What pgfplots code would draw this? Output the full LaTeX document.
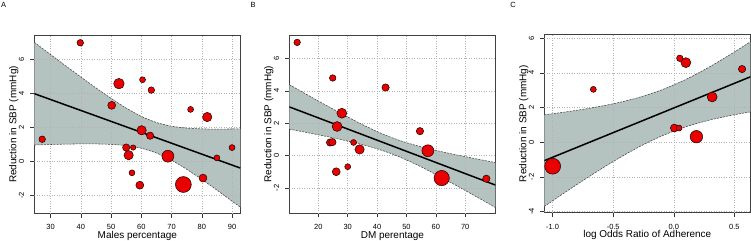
\documentclass[border=0pt]{standalone}
\usepackage{pgfplots}
\pgfplotsset{compat=1.18}
\usepackage{pgfplotstable}
\usepackage{fontspec}
\setmainfont{Liberation Sans}
\definecolor{ptred}{RGB}{235,0,0}
\definecolor{bandcol}{RGB}{180,194,192}
\definecolor{bandedge}{RGB}{70,70,70}

\pgfplotstableread{
x y r
73.9 -1.37 8.0
68.8 0.30 6.0
52.6 4.58 5.3
55.8 0.36 4.7
81.8 2.61 4.7
60.1 1.83 4.7
50.2 3.30 4.0
59.5 -1.41 4.0
80.4 -0.99 4.0
55.0 0.81 3.7
62.9 1.51 3.7
27.2 1.30 3.3
39.8 6.99 3.3
63.3 4.20 3.3
57.3 0.81 2.7
56.9 -0.68 3.0
60.4 4.81 3.0
76.3 3.06 3.0
90.0 0.81 3.0
85.0 0.20 3.0
}\dataA

\pgfplotstableread{
x y r
62.0 -1.40 7.7
57.3 0.29 6.0
28.0 2.61 5.0
26.4 1.79 5.0
34.05 0.37 4.7
26.1 -1.01 4.0
24.0 0.80 3.7
24.8 0.82 3.7
54.6 1.50 3.7
77.2 -1.44 3.7
42.9 4.20 3.7
12.8 6.99 3.3
24.9 4.79 3.3
32.0 0.80 3.0
30.0 -0.70 3.0
}\dataB

\pgfplotstableread{
x y r
-1.0 -1.38 8.0
0.187 0.32 6.3
0.10 4.59 5.0
0.317 2.61 5.0
0.005 0.82 4.0
0.564 4.22 3.7
0.05 4.84 3.3
0.044 0.82 3.0
-0.664 3.05 3.0
}\dataC

\tikzset{gridst/.style={dotted, black!30, line width=0.5bp}}
\pgfplotsset{
  myax/.style={
    scale only axis, width=206bp, height=178bp,
    axis line style={draw=black!75, line width=0.6bp},
    tick align=outside, major tick length=4bp,
    tick style={black!80, line width=0.5bp},
    xtick pos=left, ytick pos=left,
    /pgf/number format/assume math mode=true,
    tick label style={font=\fontsize{7.5}{9}\selectfont, inner sep=0pt},
    label style={font=\fontsize{7.5}{9}\selectfont},
    yticklabel style={rotate=90, anchor=south},
    xticklabel style={anchor=north},
    yticklabel shift=6bp, xticklabel shift=7bp,
    ylabel={Reduction in SBP (mmHg)},
    every axis y label/.style={at={(axis description cs:-0.1,0.5)}, rotate=90, anchor=center},
    every axis x label/.style={at={(axis description cs:0.5,-0.1275)}, anchor=center},
  },
  bubbles/.style={scatter, only marks, mark=*,
    scatter/use mapped color={draw=black, fill=ptred},
    mark options={line width=0.45bp},
    visualization depends on={\thisrow{r} \as \rr},
    scatter/@pre marker code/.append style={/tikz/mark size=\rr}},
  band/.style={fill=bandcol, draw=none},
  bedge/.style={bandedge, line width=0.55bp, dash pattern=on 2bp off 1.2bp, smooth},
  regline/.style={black, line width=1.5bp},
}

\begin{document}
\begin{tikzpicture}
\useasboundingbox (0,0) rectangle (751bp,241bp);
\node[font=\fontsize{7.5}{9}\selectfont] at (3.5bp,236.5bp) {A};
\node[font=\fontsize{7.5}{9}\selectfont] at (253bp,236.5bp) {B};
\node[font=\fontsize{7.5}{9}\selectfont] at (513bp,236.3bp) {C};

% ---------- A ----------
\begin{axis}[myax, at={(34.3bp,27.5bp)}, anchor=south west,
  xmin=24.59, xmax=92.74, ymin=-3.08, ymax=7.42,
  xtick={30,40,...,90}, ytick={-2,0,2,4,6},
  xlabel={Males percentage}]
\addplot[band] coordinates {(24.59,7.02) (30,6.294) (35,5.628) (40,4.971) (45,4.329) (50,3.712) (55,3.139) (60,2.649) (65,2.286) (70,2.069) (75,1.959) (80,1.912) (85,1.898) (92.74,1.913)
 (92.74,-2.709) (85,-1.698) (80,-1.068) (75,-0.471) (70,0.063) (65,0.49) (60,0.771) (55,0.925) (50,0.996) (45,1.023) (40,1.025) (35,1.012) (30,0.99) (24.59,0.96) (24.59,7.02)};
\pgfplotsinvokeforeach{30,40,50,60,70,80,90}{\draw[gridst] (axis cs:#1,-3.08) -- (axis cs:#1,7.42);}
\pgfplotsinvokeforeach{-2,0,2,4,6}{\draw[gridst] (axis cs:24.59,#1) -- (axis cs:92.74,#1);}
\addplot[bedge] coordinates {(24.59,7.02) (30,6.294) (35,5.628) (40,4.971) (45,4.329) (50,3.712) (55,3.139) (60,2.649) (65,2.286) (70,2.069) (75,1.959) (80,1.912) (85,1.898) (92.74,1.913)};
\addplot[bedge] coordinates {(24.59,0.96) (30,0.99) (35,1.012) (40,1.025) (45,1.023) (50,0.996) (55,0.925) (60,0.771) (65,0.49) (70,0.063) (75,-0.471) (80,-1.068) (85,-1.698) (92.74,-2.709)};
\addplot[regline] coordinates {(24.59,3.99) (92.74,-0.398)};
\addplot[bubbles] table[x=x,y=y,meta=r]{\dataA};
\end{axis}

% ---------- B ----------
\begin{axis}[myax, at={(289.4bp,27.7bp)}, anchor=south west,
  xmin=10.16, xmax=80.28, ymin=-3.58, ymax=7.43,
  xtick={20,30,...,70}, ytick={-2,0,2,4,6},
  xlabel={DM perentage}]
\addplot[band] coordinates {(10.16,4.374) (15,3.877) (20,3.368) (25,2.867) (30,2.377) (35,1.909) (40,1.477) (45,1.1) (50,0.788) (55,0.531) (60,0.31) (65,0.111) (70,-0.077) (75,-0.257) (80.28,-0.442)
 (80.28,-3.222) (75,-2.677) (70,-2.169) (65,-1.667) (60,-1.178) (55,-0.709) (50,-0.278) (45,0.1) (40,0.411) (35,0.669) (30,0.889) (25,1.089) (20,1.276) (15,1.457) (10.16,1.626) (10.16,4.374)};
\pgfplotsinvokeforeach{20,30,40,50,60,70}{\draw[gridst] (axis cs:#1,-3.58) -- (axis cs:#1,7.43);}
\pgfplotsinvokeforeach{-2,0,2,4,6}{\draw[gridst] (axis cs:10.16,#1) -- (axis cs:80.28,#1);}
\addplot[bedge] coordinates {(10.16,4.374) (15,3.877) (20,3.368) (25,2.867) (30,2.377) (35,1.909) (40,1.477) (45,1.1) (50,0.788) (55,0.531) (60,0.31) (65,0.111) (70,-0.077) (75,-0.257) (80.28,-0.442)};
\addplot[bedge] coordinates {(10.16,1.626) (15,1.457) (20,1.276) (25,1.089) (30,0.889) (35,0.669) (40,0.411) (45,0.1) (50,-0.278) (55,-0.709) (60,-1.178) (65,-1.667) (70,-2.169) (75,-2.677) (80.28,-3.222)};
\addplot[regline] coordinates {(10.16,3.0) (80.28,-1.832)};
\addplot[bubbles] table[x=x,y=y,meta=r]{\dataB};
\end{axis}

% ---------- C ----------
\begin{axis}[myax, at={(544.3bp,28.3bp)}, anchor=south west,
  xmin=-1.069, xmax=0.632, ymin=-4.06, ymax=6.2,
  xtick={-1,-0.5,0,0.5}, xticklabels={-1.0,-0.5,0.0,0.5},
  ytick={-4,-2,0,2,4,6},
  xlabel={log Odds Ratio of Adherence}]
\addplot[band] coordinates {(-1.069,1.581) (-0.9,1.740) (-0.7,1.956) (-0.5,2.219) (-0.3,2.559) (-0.1,3.018) (0.1,3.623) (0.3,4.363) (0.5,5.202) (0.632,5.792)
 (0.632,1.748) (0.5,1.584) (0.3,1.287) (0.1,0.893) (-0.1,0.362) (-0.3,-0.315) (-0.5,-1.109) (-0.7,-1.982) (-0.9,-2.900) (-1.069,-3.701) (-1.069,1.581)};
\pgfplotsinvokeforeach{-1,-0.5,0,0.5}{\draw[gridst] (axis cs:#1,-4.06) -- (axis cs:#1,6.2);}
\pgfplotsinvokeforeach{-4,-2,0,2,4,6}{\draw[gridst] (axis cs:-1.069,#1) -- (axis cs:0.632,#1);}
\addplot[bedge] coordinates {(-1.069,1.581) (-0.9,1.740) (-0.7,1.956) (-0.5,2.219) (-0.3,2.559) (-0.1,3.018) (0.1,3.623) (0.3,4.363) (0.5,5.202) (0.632,5.792)};
\addplot[bedge] coordinates {(-1.069,-3.701) (-0.9,-2.900) (-0.7,-1.982) (-0.5,-1.109) (-0.3,-0.315) (-0.1,0.362) (0.1,0.893) (0.3,1.287) (0.5,1.584) (0.632,1.748)};
\addplot[regline] coordinates {(-1.069,-1.06) (0.632,3.77)};
\addplot[bubbles] table[x=x,y=y,meta=r]{\dataC};
\end{axis}
\end{tikzpicture}
\end{document}
